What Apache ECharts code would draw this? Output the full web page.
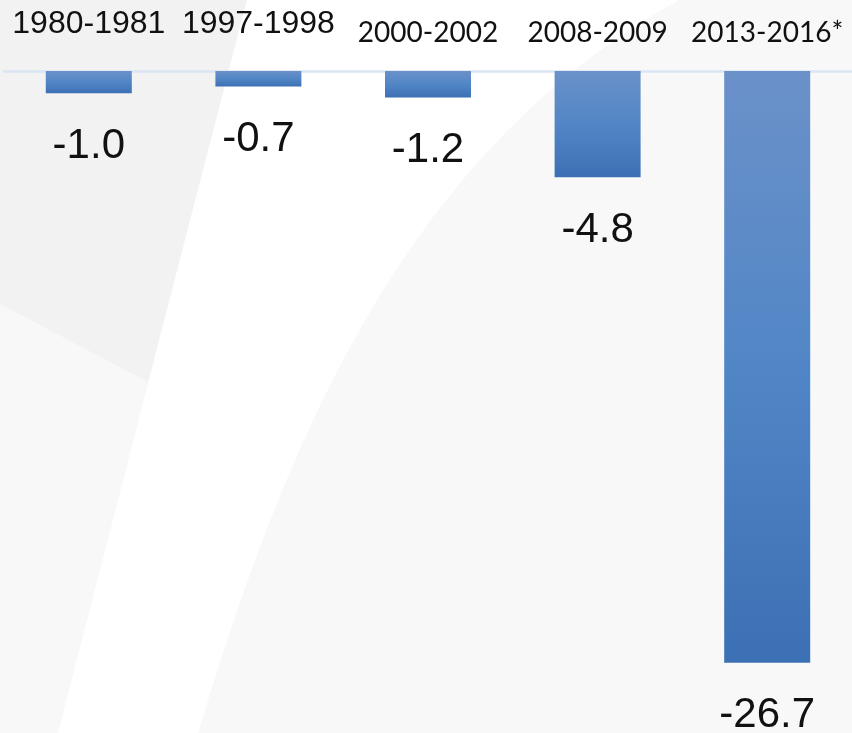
<!DOCTYPE html>
<html>
<head>
<meta charset="utf-8">
<script src="https://cdn.jsdelivr.net/npm/echarts@6/dist/echarts.min.js"></script>
<style>
  html, body { margin: 0; padding: 0; }
  #chart { width: 852px; height: 733px; }
</style>
</head>
<body>
<div id="chart"></div>
<script>
  // periods and change values
  const periods = ['1980-1981', '1997-1998', '2000-2002', '2008-2009', '2013-2016*'];
  const changes = [-1.0, -0.7, -1.2, -4.8, -26.7];

  const myChart = echarts.init(document.getElementById('chart'));

  const barColor = new echarts.graphic.LinearGradient(0, 0, 0, 1, [
    { offset: 0, color: '#6b91c9' },
    { offset: 0.5, color: '#5186c6' },
    { offset: 1, color: '#3c70b4' }
  ]);

  // white swoosh in the background: straight left edge, curved right edge
  const swoosh = () => {
    const p0 = [679, 0], p1 = [409, 150], p2 = [288, 433], p3 = [198, 733];
    const pts = [[247, 0]];
    for (let i = 0; i <= 40; i++) {
      const t = i / 40, u = 1 - t;
      const a = u * u * u, b = 3 * u * u * t, c = 3 * u * t * t, d = t * t * t;
      pts.push([
        a * p0[0] + b * p1[0] + c * p2[0] + d * p3[0],
        a * p0[1] + b * p1[1] + c * p2[1] + d * p3[1]
      ]);
    }
    pts.push([58, 733]);
    return pts;
  };

  const option = {
    backgroundColor: '#f8f8f8',
    animation: false,
    graphic: [
      {
        type: 'polygon',
        z: -10,
        silent: true,
        shape: { points: [[0, 0], [247, 0], [148, 382], [0, 304]] },
        style: { fill: '#f2f2f2' }
      },
      {
        type: 'polygon',
        z: -10,
        silent: true,
        shape: { points: swoosh() },
        style: { fill: '#ffffff' }
      }
    ],
    grid: {
      left: 4,
      right: -2,
      top: 71,
      bottom: 63.7
    },
    xAxis: {
      type: 'category',
      position: 'top',
      offset: 2,
      data: periods,
      axisLine: { lineStyle: { color: '#dae5f3', width: 2.5 } },
      axisTick: { show: false },
      axisLabel: {
        interval: 0,
        margin: 28.5,
        formatter: function (value, index) {
          return index < 2 ? '{a|' + value + '}' : '{b|' + value + '}';
        },
        rich: {
          a: { fontFamily: 'Liberation Sans', fontSize: 32, lineHeight: 32, color: '#111' },
          b: { fontFamily: 'Lato', fontSize: 28, lineHeight: 16, color: '#111' }
        }
      }
    },
    yAxis: {
      type: 'value',
      min: -27,
      max: 0,
      show: false,
      splitLine: { show: false }
    },
    series: [
      {
        type: 'bar',
        data: changes,
        barWidth: 86,
        itemStyle: { color: barColor },
        label: {
          show: true,
          position: 'bottom',
          distance: 32,
          fontFamily: 'Liberation Sans',
          fontSize: 42,
          color: '#111',
          formatter: function (p) {
            return p.value.toFixed(1);
          }
        }
      }
    ]
  };

  option && myChart.setOption(option);
</script>
</body>
</html>
